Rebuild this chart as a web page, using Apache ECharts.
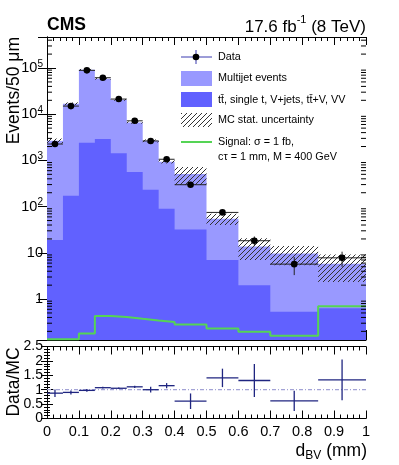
<!DOCTYPE html>
<html>
<head>
<meta charset="utf-8">
<script src="https://cdn.jsdelivr.net/npm/echarts@6.0.0/dist/echarts.min.js"></script>
<style>
  html, body { margin: 0; padding: 0; background: #fff; }
  #chart { width: 399px; height: 465px; }
</style>
</head>
<body>
<div id="chart"></div>
<script>
// bin edges of d_BV (mm)
const binEdges = [0, 0.05, 0.1, 0.15, 0.2, 0.25, 0.3, 0.35, 0.4, 0.5, 0.6, 0.7, 0.85, 1.0]
// events per bin
const dataCounts = [2265, 15000, 89000, 61700, 21300, 7200, 2640, 1060, 298, 75, 18.3, 5.7, 7.8]
const dataErrors = [48, 122, 298, 248, 146, 85, 51, 33, 17, 8.7, 4.3, 2.4, 2.8]
const totalMC = [2650, 16800, 91500, 58500, 20500, 6600, 2650, 940, 510, 55, 13.8, 9.7, 5.8]
const mcStatErr = [330, 1200, 4000, 2500, 900, 350, 200, 80, 215, 15, 6.8, 4.3, 3.45]
const ttbarOther = [18.9, 172, 2415, 2900, 1423, 561, 232, 90, 32, 7.0, 2.0, 0.53, 0.63]
const signalVals = [0.135, 0.135, 0.18, 0.43, 0.41, 0.375, 0.345, 0.32, 0.283, 0.23, 0.196, 0.16, 0.70]
const ratioVals = [0.88, 0.906, 0.976, 1.07, 1.05, 1.10, 1.0, 1.14, 0.6, 1.41, 1.32, 0.61, 1.34]
const ratioErrs = [0.13, 0.07, 0.05, 0.03, 0.03, 0.04, 0.1, 0.09, 0.27, 0.32, 0.57, 0.35, 0.71]
const ratioTicks = ['0', '0.5', '1', '1.5', '2', '2.5']

const FONT = '"Liberation Sans", Arial, Helvetica, sans-serif'
const LIGHT = '#9999ff'
const DARK = '#6161ff'
const GREEN = '#55d455'
const NAVY = '#1f2580'
const YMIN = 0.13
const YMAX = 4.69e5

// hatch pattern (ROOT 3004 like)
function makeHatch() {
  const c = document.createElement('canvas')
  c.width = 5
  c.height = 5
  const g = c.getContext('2d')
  g.strokeStyle = '#333'
  g.lineWidth = 1
  g.beginPath()
  g.moveTo(0, 5); g.lineTo(5, 0)
  g.moveTo(-1, 1); g.lineTo(1, -1)
  g.moveTo(4, 6); g.lineTo(6, 4)
  g.stroke()
  return c
}
const hatch = { image: makeHatch(), repeat: 'repeat' }

// histogram outline points (value holds until next edge)
function stepData(vals) {
  return binEdges.map((e, i) => [e, vals[Math.min(i, vals.length - 1)]])
}

const minorLogTicks = []
for (let n = -1; n <= 5; n++) {
  for (let k = 2; k <= 9; k++) {
    const v = k * Math.pow(10, n)
    if (v > YMIN && v < YMAX) minorLogTicks.push([0, v])
  }
}

const myChart = echarts.init(document.getElementById('chart'))

function xAxisCfg(grid, pos, labels) {
  return {
    type: 'value', gridIndex: grid, position: pos, min: 0, max: 1, interval: 0.1,
    axisLine: { show: true, onZero: false, lineStyle: { color: '#000', width: 1 } },
    axisTick: { show: true, inside: true, length: pos === 'bottom' && grid === 0 ? 10 : 8, lineStyle: { color: '#000' } },
    minorTick: { show: true, splitNumber: 5, length: 4, lineStyle: { color: '#000' } },
    axisLabel: { show: labels, fontFamily: FONT, fontSize: 14.5, color: '#000', margin: 6, showMinLabel: true, showMaxLabel: true },
    splitLine: { show: false }
  }
}

myChart.setOption({
  animation: false,
  textStyle: { fontFamily: FONT },
  grid: [
    { left: 47, top: 37, width: 319, height: 303 },
    { left: 47, top: 346.5, width: 319, height: 72 }
  ],
  xAxis: [
    xAxisCfg(0, 'bottom', false),
    xAxisCfg(0, 'top', false),
    xAxisCfg(1, 'bottom', true),
    xAxisCfg(1, 'top', false)
  ],
  yAxis: [
    {
      type: 'log', gridIndex: 0, position: 'left', min: YMIN, max: YMAX,
      axisLine: { show: true, lineStyle: { color: '#000' } },
      axisTick: { show: true, inside: true, length: 9, lineStyle: { color: '#000' } },
      splitLine: { show: false },
      axisLabel: {
        color: '#000', margin: 4, fontFamily: FONT,
        formatter: function(v) {
          const l = Math.log10(v)
          const e = Math.round(l)
          if (Math.abs(l - e) > 1e-6) return ''
          if (e === 0) return '{b|1}'
          if (e === 1) return '{b|10}'
          return '{b|10}{e|' + e + '}'
        },
        rich: {
          b: { fontSize: 14.5, fontFamily: FONT, color: '#000', lineHeight: 18 },
          e: { fontSize: 10, fontFamily: FONT, color: '#000', lineHeight: 10, verticalAlign: 'top' }
        }
      }
    },
    {
      type: 'log', gridIndex: 0, position: 'right', min: YMIN, max: YMAX,
      axisLine: { show: true, lineStyle: { color: '#000' } },
      axisTick: { show: true, inside: true, length: 9, lineStyle: { color: '#000' } },
      axisLabel: { show: false },
      splitLine: { show: false }
    },
    {
      type: 'value', gridIndex: 1, position: 'left', min: 0, max: 2.5, interval: 0.5,
      axisLine: { show: true, lineStyle: { color: '#000' } },
      axisTick: { show: true, inside: true, length: 6, lineStyle: { color: '#000' } },
      minorTick: { show: true, splitNumber: 5, length: 3, lineStyle: { color: '#000' } },
      axisLabel: {
        color: '#000', fontFamily: FONT, fontSize: 14, margin: 4, lineHeight: 9,
        showMinLabel: true, showMaxLabel: true, hideOverlap: false,
        formatter: function(v) { return ratioTicks[Math.round(v * 2)] }
      },
      splitLine: { show: false }
    },
    {
      type: 'value', gridIndex: 1, position: 'right', min: 0, max: 2.5, interval: 0.5,
      axisLine: { show: true, lineStyle: { color: '#000' } },
      axisTick: { show: true, inside: true, length: 6, lineStyle: { color: '#000' } },
      minorTick: { show: true, splitNumber: 5, length: 3, lineStyle: { color: '#000' } },
      axisLabel: { show: false },
      splitLine: { show: false }
    }
  ],
  series: [
    {
      name: 'Multijet events', type: 'line', xAxisIndex: 0, yAxisIndex: 0,
      step: 'end', symbol: 'none', data: stepData(totalMC),
      lineStyle: { width: 0 }, areaStyle: { color: LIGHT, opacity: 1 }, z: 1
    },
    {
      name: 'ttbar etc', type: 'line', xAxisIndex: 0, yAxisIndex: 0,
      step: 'end', symbol: 'none', data: stepData(ttbarOther),
      lineStyle: { width: 0 }, areaStyle: { color: DARK, opacity: 1 }, z: 2
    },
    {
      name: 'MC stat', type: 'custom', xAxisIndex: 0, yAxisIndex: 0, z: 3, silent: true,
      data: totalMC.map((t, i) => [binEdges[i], binEdges[i + 1], t, mcStatErr[i]]),
      encode: { x: [0, 1], y: 2 },
      renderItem: function(params, api) {
        const t = api.value(2)
        const e = api.value(3)
        const p0 = api.coord([api.value(0), t + e])
        const p1 = api.coord([api.value(1), Math.max(t - e, YMIN)])
        return {
          type: 'rect',
          shape: { x: p0[0], y: p0[1], width: p1[0] - p0[0], height: p1[1] - p0[1] },
          style: { fill: hatch, stroke: null }
        }
      }
    },
    {
      name: 'Signal', type: 'line', xAxisIndex: 0, yAxisIndex: 0,
      step: 'end', symbol: 'none', data: stepData(signalVals),
      lineStyle: { color: GREEN, width: 2 }, z: 4
    },
    {
      name: 'Data', type: 'custom', xAxisIndex: 0, yAxisIndex: 0, z: 5, silent: true,
      data: dataCounts.map((v, i) => [binEdges[i], binEdges[i + 1], v, dataErrors[i]]),
      encode: { x: [0, 1], y: 2 },
      renderItem: function(params, api) {
        const lo = api.value(0)
        const hi = api.value(1)
        const v = api.value(2)
        const e = api.value(3)
        const c = (lo + hi) / 2
        const pl = api.coord([lo, v])
        const pr = api.coord([hi, v])
        const pt = api.coord([c, v + e])
        const pb = api.coord([c, Math.max(v - e, YMIN)])
        const st = { stroke: '#222', lineWidth: 1 }
        return {
          type: 'group',
          children: [
            { type: 'line', shape: { x1: pl[0], y1: pl[1], x2: pr[0], y2: pr[1] }, style: st },
            { type: 'line', shape: { x1: pt[0], y1: pt[1], x2: pb[0], y2: pb[1] }, style: st },
            { type: 'circle', shape: { cx: pt[0], cy: pl[1], r: 3.3 }, style: { fill: '#000' } }
          ]
        }
      }
    },
    {
      name: 'log minor ticks', type: 'custom', xAxisIndex: 0, yAxisIndex: 0, z: 6, silent: true,
      data: minorLogTicks, encode: { x: 0, y: 1 },
      renderItem: function(params, api) {
        const v = api.value(1)
        const a = api.coord([0, v])
        const b = api.coord([1, v])
        const st = { stroke: '#000', lineWidth: 1 }
        return {
          type: 'group',
          children: [
            { type: 'line', shape: { x1: a[0], y1: a[1], x2: a[0] + 5, y2: a[1] }, style: st },
            { type: 'line', shape: { x1: b[0] - 5, y1: b[1], x2: b[0], y2: b[1] }, style: st }
          ]
        }
      }
    },
    {
      name: 'unity', type: 'line', xAxisIndex: 2, yAxisIndex: 2, symbol: 'none',
      data: [[0, 1], [1, 1]],
      lineStyle: { color: '#a3a3d6', width: 1.3, type: [4, 2, 1, 2] }, z: 1
    },
    {
      name: 'Data/MC', type: 'custom', xAxisIndex: 2, yAxisIndex: 2, z: 5, silent: true,
      data: ratioVals.map((r, i) => [binEdges[i], binEdges[i + 1], r, ratioErrs[i]]),
      encode: { x: [0, 1], y: 2 },
      renderItem: function(params, api) {
        const lo = api.value(0)
        const hi = api.value(1)
        const r = api.value(2)
        const e = api.value(3)
        const c = (lo + hi) / 2
        const pl = api.coord([lo, r])
        const pr = api.coord([hi, r])
        const pt = api.coord([c, r + e])
        const pb = api.coord([c, r - e])
        const st = { stroke: NAVY, lineWidth: 1.3 }
        return {
          type: 'group',
          children: [
            { type: 'line', shape: { x1: pl[0], y1: pl[1], x2: pr[0], y2: pr[1] }, style: st },
            { type: 'line', shape: { x1: pt[0], y1: pt[1], x2: pb[0], y2: pb[1] }, style: st }
          ]
        }
      }
    }
  ],
  graphic: [
    // header
    { type: 'text', left: 47, top: 16, style: { text: 'CMS', font: 'bold 17.5px ' + FONT, fill: '#000' } },
    {
      type: 'text', right: 33, top: 14,
      style: {
        text: '{a|17.6 fb}{s|-1}{a| (8 TeV)}', fill: '#000',
        rich: {
          a: { fontSize: 17, fontFamily: FONT, lineHeight: 22, verticalAlign: 'bottom' },
          s: { fontSize: 11, fontFamily: FONT, lineHeight: 11, verticalAlign: 'top' }
        }
      }
    },
    // axis titles
    {
      type: 'text', x: 14, y: 37, rotation: Math.PI / 2,
      style: { text: 'Events/50 μm', font: '17.5px ' + FONT, fill: '#000', align: 'right', verticalAlign: 'middle' }
    },
    {
      type: 'text', x: 14, y: 382, rotation: Math.PI / 2,
      style: { text: 'Data/MC', font: '17.5px ' + FONT, fill: '#000', align: 'center', verticalAlign: 'middle' }
    },
    {
      type: 'text', right: 32, top: 442,
      style: {
        text: '{a|d}{s|BV}{a| (mm)}', fill: '#000',
        rich: {
          a: { fontSize: 17.5, fontFamily: FONT, lineHeight: 22 },
          s: { fontSize: 12, fontFamily: FONT, lineHeight: 12, verticalAlign: 'bottom' }
        }
      }
    },
    // legend
    { type: 'line', shape: { x1: 181, y1: 57, x2: 212, y2: 57 }, style: { stroke: '#3a3ab0', lineWidth: 1 } },
    { type: 'line', shape: { x1: 196, y1: 50, x2: 196, y2: 64 }, style: { stroke: '#3a3ab0', lineWidth: 1 } },
    { type: 'circle', shape: { cx: 196, cy: 57, r: 3.3 }, style: { fill: '#000' } },
    { type: 'text', x: 218, y: 57, style: { text: 'Data', font: '10.8px ' + FONT, fill: '#000', verticalAlign: 'middle' } },
    { type: 'rect', shape: { x: 181, y: 71, width: 31, height: 15 }, style: { fill: LIGHT } },
    { type: 'text', x: 218, y: 78.5, style: { text: 'Multijet events', font: '10.8px ' + FONT, fill: '#000', verticalAlign: 'middle' } },
    { type: 'rect', shape: { x: 181, y: 92, width: 31, height: 15 }, style: { fill: DARK } },
    { type: 'text', x: 218, y: 100, style: { text: 'tt\u0304, single t, V+jets, tt\u0304+V, VV', font: '10.8px ' + FONT, fill: '#000', verticalAlign: 'middle' } },
    { type: 'rect', shape: { x: 181, y: 113, width: 31, height: 14 }, style: { fill: hatch } },
    { type: 'text', x: 218, y: 120.5, style: { text: 'MC stat. uncertainty', font: '10.8px ' + FONT, fill: '#000', verticalAlign: 'middle' } },
    { type: 'line', shape: { x1: 181, y1: 142, x2: 212, y2: 142 }, style: { stroke: GREEN, lineWidth: 2 } },
    { type: 'text', x: 218, y: 142, style: { text: 'Signal: σ = 1 fb,', font: '10.8px ' + FONT, fill: '#000', verticalAlign: 'middle' } },
    { type: 'text', x: 218, y: 157.5, style: { text: 'cτ = 1 mm, M = 400 GeV', font: '10.8px ' + FONT, fill: '#000', verticalAlign: 'middle' } }
  ]
})
</script>
</body>
</html>
